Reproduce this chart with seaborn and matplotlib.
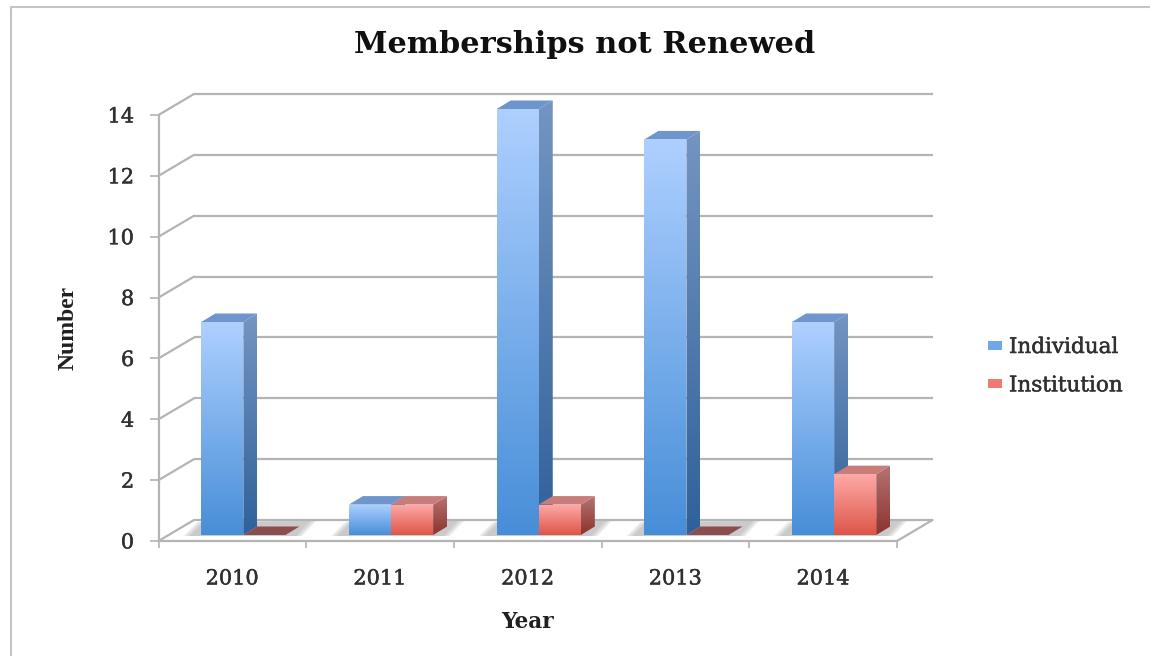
import matplotlib
matplotlib.use('Agg')
import matplotlib.patheffects as pe
import matplotlib.pyplot as plt
import numpy as np
import pandas as pd
import seaborn as sns
from matplotlib.colors import to_rgba
from matplotlib.lines import Line2D
from matplotlib.patches import Patch, Polygon
from matplotlib.transforms import Affine2D, IdentityTransform

years = ['2010', '2011', '2012', '2013', '2014']
individual = [7, 1, 14, 13, 7]
institution = [0, 1, 1, 0, 2]
series_names = ['Individual', 'Institution']
y_ticks = [0, 2, 4, 6, 8, 10, 12, 14]

W, H = 1150, 656
GRID = '#b4b4b4'
TEXT = '#303030'
FONT = 'DejaVu Serif'

# front / side / top colours for each series, (top of bar, bottom of bar)
blue = dict(front=('#aed0ff', '#478ed8'), side=('#7495c2', '#2f6199'), top='#6f96cc')
red = dict(front=('#ffaaa8', '#dd5548'), side=('#b57472', '#8c322e'), top='#c97d7a', flat='#8c4d4e')
styles = {'Individual': blue, 'Institution': red}

sns.set_theme(style='white')
plt.rcParams['font.family'] = [FONT, 'DejaVu Sans']

df = pd.DataFrame({'Year': years * 2,
                   'Series': ['Individual'] * 5 + ['Institution'] * 5,
                   'Number': individual + institution})

fig = plt.figure(figsize=(W / 100, H / 100), dpi=100, facecolor='white')


def px_axes(left, right, top, bottom, **kw):
    return fig.add_axes([left / W, 1 - bottom / H, (right - left) / W, (bottom - top) / H], **kw)


# frame axes: front floor edge and the value axis
ax = px_axes(158.5, 897, 115, 541)
ax.set_xlim(-0.5, 4.5)
ax.set_ylim(0, 14)
ax.patch.set_alpha(0)
sns.despine(ax=ax)
for s in ['left', 'bottom']:
    ax.spines[s].set_color(GRID)
    ax.spines[s].set_linewidth(1.6)
ax.set_yticks(y_ticks)
ax.set_xticks(np.arange(-0.5, 5, 1))
ax.set_xticklabels([])
ax.set_xticks(range(5), labels=years, minor=True)
ax.tick_params(axis='y', length=6.5, width=1.2, color=GRID, labelsize=15, labelcolor=TEXT, pad=11, left=True)
ax.tick_params(axis='x', which='major', length=5, width=1.2, color=GRID, bottom=True)
ax.tick_params(axis='x', which='minor', length=0, pad=20.5, labelsize=15, labelcolor=TEXT)
ax.set_xlabel('Year', fontsize=15.5, fontweight='bold', color='#202020')
ax.xaxis.set_label_coords(0.5, -0.165)
ax.set_ylabel('Number', fontsize=17, fontweight='bold', color='#202020', family='Liberation Serif')
ax.yaxis.set_label_coords(-0.1076, 0.5)
ax.set_title('Memberships not Renewed', x=0.5765, y=1.145, pad=0, fontsize=21.9, fontweight='bold', color='#101010')

stroke = [pe.withStroke(linewidth=0.35, foreground=TEXT)]
for lab in ax.get_yticklabels() + ax.get_xticklabels(minor=True):
    lab.set_path_effects(stroke)

# back wall: same scale shifted into the depth of the chart
back = ax.transData + Affine2D().translate(35.5, 21)
ax.hlines(y_ticks, -0.5, 4.5, colors=GRID, lw=1.6, transform=back, clip_on=False, zorder=1)
for v in y_ticks:
    x0, y0 = ax.transData.transform((-0.5, v))
    ax.add_line(Line2D([x0, x0 + 35.5], [y0, y0 + 21], color=GRID, lw=1.6,
                       transform=IdentityTransform(), clip_on=False, zorder=1))
x1, y1 = ax.transData.transform((4.5, 0))
ax.add_line(Line2D([x1, x1 + 35.5], [y1, y1 + 21], color=GRID, lw=1.6,
                   transform=IdentityTransform(), clip_on=False, zorder=1))

# bars sit slightly inside the floor, so they get their own shifted axes
bar_ax = px_axes(169.5, 908, 109, 535)
bar_ax.patch.set_alpha(0)
sns.barplot(data=df, x='Year', y='Number', hue='Series', hue_order=series_names, order=years,
            palette=['#6fa8e8', '#ee7a70'], width=0.57, gap=0, dodge=True, legend=False, ax=bar_ax)
bar_ax.set_xlim(-0.5, 4.5)
bar_ax.set_ylim(0, 14)
bar_ax.axis('off')


def gradient_poly(verts, top_col, bottom_col, zorder):
    verts = np.array(verts)
    c0, c1 = np.array(to_rgba(top_col)), np.array(to_rgba(bottom_col))
    t = np.linspace(0, 1, 256)[:, None, None]
    grad = (1 - t) * c0[None, None, :] + t * c1[None, None, :]
    im = bar_ax.imshow(grad, extent=(verts[:, 0].min(), verts[:, 0].max(), verts[:, 1].min(), verts[:, 1].max()),
                       origin='upper', aspect='auto', transform=IdentityTransform(), zorder=zorder)
    im.set_clip_box(fig.bbox)
    im.set_clip_path(Polygon(verts, transform=IdentityTransform()))


DX, DY = 14, 8.5
z = 3
bars = []
for name, cont in zip(series_names, bar_ax.containers):
    for b in cont:
        bars.append((b.get_x(), name, b))
bars.sort(key=lambda r: r[0])

# floor shadow, one soft patch per category
for i in range(0, len(bars), 2):
    l = bar_ax.transData.transform((bars[i][2].get_x(), 0))[0]
    r = bar_ax.transData.transform((bars[i + 1][2].get_x() + bars[i + 1][2].get_width(), 0))[0]
    base = H - 535
    for grow in [7, 5.5, 4, 2.5, 1, 0]:
        shadow = [(l - 11 - grow, base - 1), (l + 3 - grow, base + 13), (r + 24 + grow, base + 14), (r + 10 + grow, base - 1)]
        bar_ax.add_patch(Polygon(shadow, closed=True, fc='#b0b0b0', ec='none', alpha=0.16,
                                 transform=IdentityTransform(), clip_on=False, zorder=2))

for _, name, b in bars:
    st = styles[name]
    (xa, ya) = bar_ax.transData.transform((b.get_x(), 0))
    (xb, yb) = bar_ax.transData.transform((b.get_x() + b.get_width(), b.get_height()))
    b.set_visible(False)
    if b.get_height() == 0:
        bar_ax.add_patch(Polygon([(xa, ya), (xb, ya), (xb + DX, ya + DY), (xa + DX, ya + DY)], closed=True,
                                 fc=st['flat'], ec='none', transform=IdentityTransform(), clip_on=False, zorder=z))
        z += 1
        continue
    gradient_poly([(xb, ya), (xb + DX, ya + DY), (xb + DX, yb + DY), (xb, yb)], st['side'][0], st['side'][1], z)
    bar_ax.add_patch(Polygon([(xa, yb), (xb, yb), (xb + DX, yb + DY), (xa + DX, yb + DY)], closed=True,
                             fc=st['top'], ec='none', transform=IdentityTransform(), clip_on=False, zorder=z))
    gradient_poly([(xa, ya), (xb, ya), (xb, yb), (xa, yb)], st['front'][0], st['front'][1], z + 1)
    z += 2

handles = [Patch(fc='#6fa8e8', ec='none'), Patch(fc='#ee7a70', ec='none')]
leg = fig.legend(handles, series_names, loc='upper left', bbox_to_anchor=(988 / W, 1 - 336 / H), frameon=False,
                 fontsize=15.5, handlelength=0.65, handleheight=0.3, handletextpad=0.32, labelspacing=0.76,
                 labelcolor=TEXT, borderpad=0, borderaxespad=0)
for t in leg.get_texts():
    t.set_path_effects(stroke)

# legend keys carry the same gradient as the bars
fig.canvas.draw()
for patch, st in zip(leg.get_patches(), [blue, red]):
    e = patch.get_window_extent()
    gradient_poly([(e.x0, e.y0), (e.x1, e.y0), (e.x1, e.y1), (e.x0, e.y1)], st['front'][0], st['front'][1], z)

bar_ax.set_xlim(-0.5, 4.5)
bar_ax.set_ylim(0, 14)

# picture frame of the screenshot
fig.add_artist(Line2D([10.5 / W, 10.5 / W, 1], [0, 1 - 7 / H, 1 - 7 / H], color='#c4c4c4', lw=1.5))

fig.savefig('out.png', dpi=100, facecolor='white')
